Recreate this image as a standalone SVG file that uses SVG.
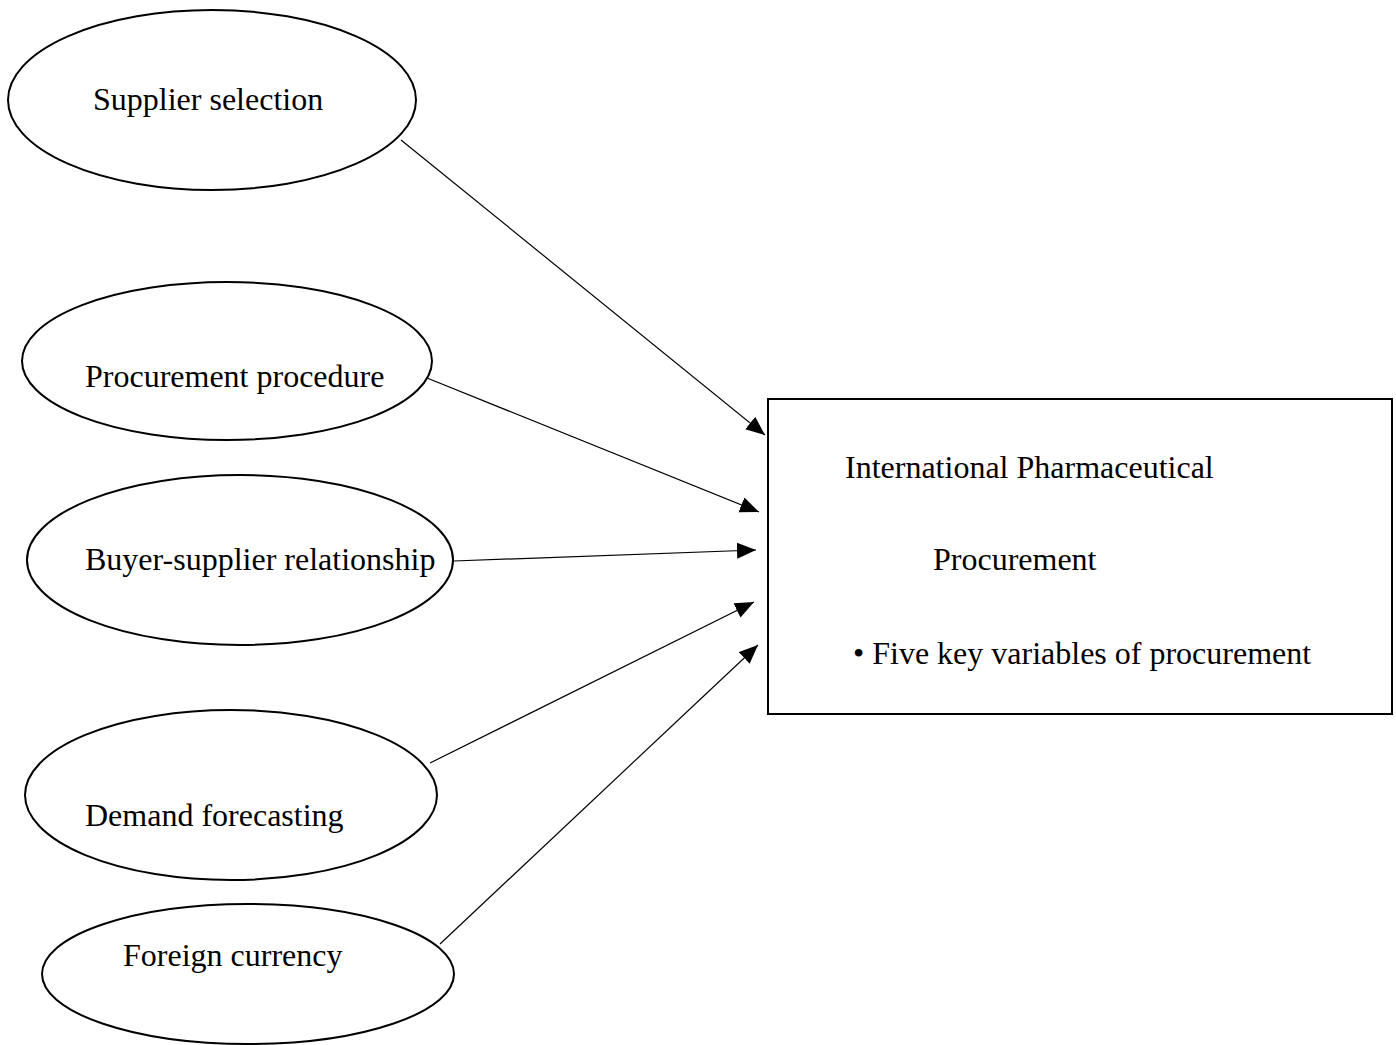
<svg xmlns="http://www.w3.org/2000/svg" width="1396" height="1045" viewBox="0 0 1396 1045">
<style>
.n{fill:#fff;stroke:#000;stroke-width:2}
.t{font-family:"Liberation Serif","Times New Roman",serif;font-size:32px;fill:#000}
.c{stroke:#000;stroke-width:1.2;fill:none;marker-end:url(#ah)}
</style>
<defs>
<marker id="ah" markerUnits="userSpaceOnUse" markerWidth="22" markerHeight="18" refX="19" refY="8" orient="auto">
<path d="M0,0 L19,8 L0,16 Z" fill="#000"/>
</marker>
</defs>
<rect width="1396" height="1045" fill="#fff"/>
<g id="connectors">
<line class="c" x1="401" y1="140" x2="765" y2="435"/>
<line class="c" x1="427" y1="378" x2="759" y2="512"/>
<line class="c" x1="454" y1="561" x2="756" y2="550"/>
<line class="c" x1="430" y1="763" x2="754" y2="602"/>
<line class="c" x1="440" y1="944" x2="758" y2="645"/>
</g>
<g id="supplier-selection">
<ellipse class="n" cx="212" cy="100" rx="204" ry="90"/>
<text class="t" x="93" y="110">Supplier selection</text>
</g>
<g id="procurement-procedure">
<ellipse class="n" cx="227" cy="361" rx="205" ry="79"/>
<text class="t" x="85" y="387">Procurement procedure</text>
</g>
<g id="buyer-supplier">
<ellipse class="n" cx="240" cy="560" rx="213" ry="85"/>
<text class="t" x="85" y="570">Buyer-supplier relationship</text>
</g>
<g id="demand-forecasting">
<ellipse class="n" cx="231" cy="795" rx="206" ry="85"/>
<text class="t" x="85" y="826">Demand forecasting</text>
</g>
<g id="foreign-currency">
<ellipse class="n" cx="248" cy="974" rx="206" ry="70"/>
<text class="t" x="123" y="966">Foreign currency</text>
</g>
<g id="ipp">
<rect class="n" x="768" y="399" width="624" height="315"/>
<text class="t" x="845" y="478">International Pharmaceutical</text>
<text class="t" x="933" y="570">Procurement</text>
<text class="t" x="853" y="664">• Five key variables of procurement</text>
</g>
</svg>
